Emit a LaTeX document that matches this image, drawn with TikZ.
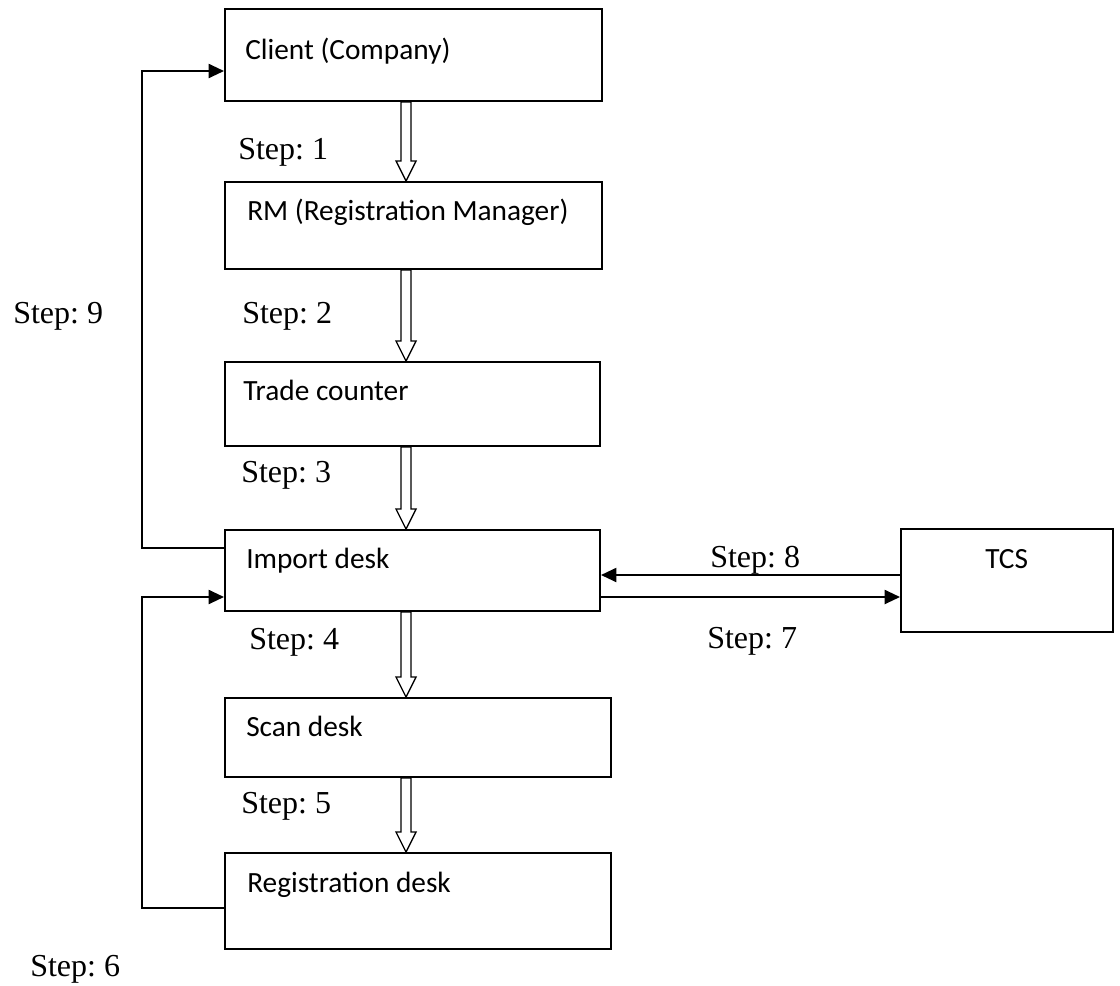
\documentclass[tikz,border=0pt]{standalone}
\usepackage{fontspec}
\setmainfont{Liberation Serif}
\newfontfamily\boxfont{Carlito}
\usetikzlibrary{arrows.meta,fit,calc}
\frenchspacing
\tikzset{
  box/.style={draw, line width=1.5pt, inner sep=0pt, fill=none},
  boxlabel/.style={anchor=base west, inner sep=0pt, font=\boxfont\fontsize{22}{26}\selectfont},
  steplabel/.style={anchor=base west, inner sep=0pt, font=\fontsize{24}{28}\selectfont},
  flow/.style={line width=1.5pt, -{Triangle[length=11.5pt,width=10.5pt]}},
  hollow/.style={draw, line width=1pt, fill=white, line join=miter}
}
\newcommand{\hollowarrow}[2]{% #1 top coordinate, #2 tip coordinate
  \draw[hollow] ($(#1)+(-5,0)$) -- ($(#2)+(-5,-20)$) -- ($(#2)+(-10,-20)$) -- (#2)
    -- ($(#2)+(10,-20)$) -- ($(#2)+(5,-20)$) -- ($(#1)+(5,0)$) -- cycle;}
\begin{document}
\begin{tikzpicture}[x=0.75pt,y=-0.75pt]
\useasboundingbox (0,0) rectangle (1120,985);
% boxes
\node[box, fit={(225,9) (602,101)}] (client) {};
\node[box, fit={(225,182) (602,269)}] (rm) {};
\node[box, fit={(225,362) (600,446)}] (trade) {};
\node[box, fit={(225,530) (600,611)}] (import) {};
\node[box, fit={(225,698) (611,777)}] (scan) {};
\node[box, fit={(225,853) (611,949)}] (reg) {};
\node[box, fit={(901,529) (1113,632)}] (tcs) {};
% box labels
\node[boxlabel] (tclient) at (245,59) {Client (Company)};
\node[boxlabel] (trm) at (247,220) {RM (Registration Manager)};
\node[boxlabel] (ttrade) at (243,400) {Trade counter};
\node[boxlabel] (timport) at (246,568) {Import desk};
\node[boxlabel] (tscan) at (246,736) {Scan desk};
\node[boxlabel] (treg) at (247,892) {Registration desk};
\node[boxlabel] (ttcs) at (985,568) {TCS};
% step labels
\node[steplabel] (s1) at (238,159) {Step: 1};
\node[steplabel] (s2) at (242,323) {Step: 2};
\node[steplabel] (s9) at (13,323) {Step: 9};
\node[steplabel] (s3) at (241,482) {Step: 3};
\node[steplabel] (s8) at (710,567) {Step: 8};
\node[steplabel] (s4) at (249,649) {Step: 4};
\node[steplabel] (s7) at (707,648) {Step: 7};
\node[steplabel] (s5) at (241,813) {Step: 5};
\node[steplabel] (s6) at (30,976) {Step: 6};
% hollow arrow coordinates
\coordinate (a1t) at ($(client.south west)+(182,0)$);
\coordinate (a1b) at ($(rm.north west)+(182,0)$);
\coordinate (a2t) at ($(rm.south west)+(182,0)$);
\coordinate (a2b) at ($(trade.north west)+(182,0)$);
\coordinate (a3t) at ($(trade.south west)+(182,0)$);
\coordinate (a3b) at ($(import.north west)+(182,0)$);
\coordinate (a4t) at ($(import.south west)+(182,0)$);
\coordinate (a4b) at ($(scan.north west)+(182,0)$);
\coordinate (a5t) at ($(scan.south west)+(182,0)$);
\coordinate (a5b) at ($(reg.north west)+(182,0)$);
\hollowarrow{a1t}{a1b}
\hollowarrow{a2t}{a2b}
\hollowarrow{a3t}{a3b}
\hollowarrow{a4t}{a4b}
\hollowarrow{a5t}{a5b}
% step 9 loop
\draw[flow] ($(import.north west)+(0,19)$) -| (142,71) -- (client.west |- 0,71);
% step 6 loop
\draw[flow] ($(reg.north west)+(0,56)$) -| (142,597) -- (import.west |- 0,597);
% step 8 and 7
\draw[flow] (tcs.west |- 0,575) -- (import.east |- 0,575);
\draw[flow] (import.east |- 0,597) -- (tcs.west |- 0,597);
\end{tikzpicture}
\end{document}
